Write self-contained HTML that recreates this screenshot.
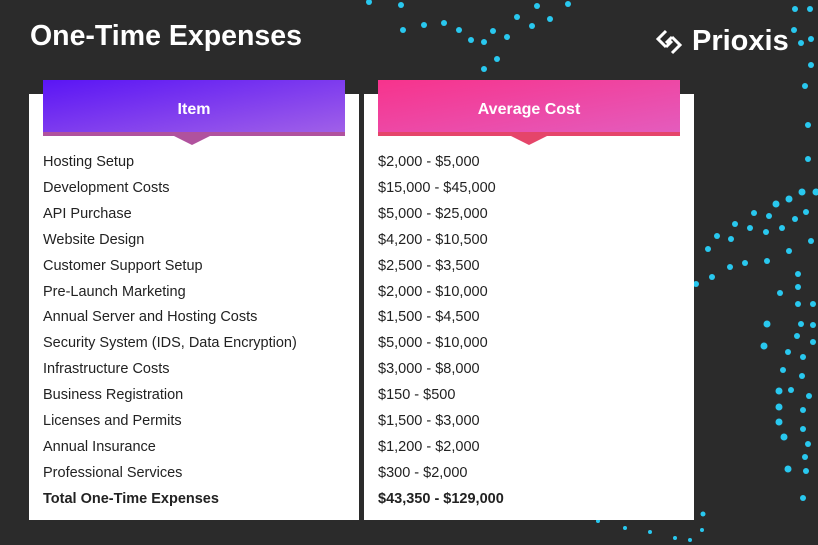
<!DOCTYPE html>
<html><head><meta charset="utf-8"><style>
body{margin:0;width:818px;height:545px;background:#2b2b2b;position:relative;overflow:hidden;font-family:"Liberation Sans",sans-serif}
svg.bg{position:absolute;left:0;top:0}
.title{position:absolute;left:30px;top:20px;color:#fff;font-size:28.5px;font-weight:bold}
.logo{position:absolute;left:654px;top:25px;color:#fff;font-size:29px;font-weight:bold;display:flex;align-items:center;gap:8px}
.panel{position:absolute;top:94px;height:426px;background:#fff}
.hdr{position:absolute;top:80px;height:52px;border-bottom:4px solid;color:#fff;font-weight:bold;font-size:16px;text-align:center;line-height:60px}
.notch{position:absolute;top:136px;width:0;height:0;border-left:18px solid transparent;border-right:18px solid transparent;border-top:9px solid}
.rows{position:absolute;top:150px;font-size:14.5px;color:#222;line-height:25.9px}
.rows div:last-child{font-weight:bold}
</style></head><body>
<svg class="bg" width="818" height="545" fill="#29c8ef">
<g>
<circle cx="369" cy="2" r="3"/><circle cx="401" cy="5" r="3"/><circle cx="403" cy="30" r="3"/><circle cx="424" cy="25" r="3"/><circle cx="444" cy="23" r="3"/><circle cx="459" cy="30" r="3"/><circle cx="471" cy="40" r="3"/><circle cx="484" cy="42" r="3"/><circle cx="493" cy="31" r="3"/><circle cx="507" cy="37" r="3"/><circle cx="517" cy="17" r="3"/><circle cx="532" cy="26" r="3"/><circle cx="537" cy="6" r="3"/><circle cx="550" cy="19" r="3"/><circle cx="568" cy="4" r="3"/><circle cx="497" cy="59" r="3"/><circle cx="484" cy="69" r="3"/><circle cx="489" cy="87" r="3"/><circle cx="481" cy="104" r="3"/><circle cx="493" cy="114" r="3"/><circle cx="335" cy="124" r="3"/>
<circle cx="795" cy="9" r="3"/><circle cx="810" cy="9" r="3"/><circle cx="794" cy="30" r="3"/><circle cx="801" cy="43" r="3"/><circle cx="811" cy="39" r="3"/><circle cx="811" cy="65" r="3"/><circle cx="805" cy="86" r="3"/><circle cx="808" cy="125" r="3"/><circle cx="808" cy="159" r="3"/>
<circle cx="802" cy="192" r="3.5"/><circle cx="816" cy="192" r="3.5"/><circle cx="789" cy="199" r="3.5"/><circle cx="776" cy="204" r="3.5"/><circle cx="754" cy="213" r="3"/><circle cx="769" cy="216" r="3"/><circle cx="806" cy="212" r="3"/><circle cx="795" cy="219" r="3"/><circle cx="735" cy="224" r="3"/><circle cx="750" cy="228" r="3"/><circle cx="766" cy="232" r="3"/><circle cx="782" cy="228" r="3"/><circle cx="717" cy="236" r="3"/><circle cx="731" cy="239" r="3"/><circle cx="708" cy="249" r="3"/><circle cx="811" cy="241" r="3"/><circle cx="789" cy="251" r="3"/><circle cx="730" cy="267" r="3"/><circle cx="745" cy="263" r="3"/><circle cx="767" cy="261" r="3"/><circle cx="712" cy="277" r="3"/><circle cx="696" cy="284" r="3"/><circle cx="798" cy="274" r="3"/><circle cx="798" cy="287" r="3"/><circle cx="780" cy="293" r="3"/><circle cx="798" cy="304" r="3"/><circle cx="813" cy="304" r="3"/><circle cx="767" cy="324" r="3.5"/><circle cx="801" cy="324" r="3"/><circle cx="813" cy="325" r="3"/><circle cx="797" cy="336" r="3"/><circle cx="764" cy="346" r="3.5"/><circle cx="813" cy="342" r="3"/><circle cx="788" cy="352" r="3"/><circle cx="803" cy="357" r="3"/><circle cx="783" cy="370" r="3"/><circle cx="802" cy="376" r="3"/><circle cx="779" cy="391" r="3.5"/><circle cx="791" cy="390" r="3"/><circle cx="809" cy="396" r="3"/><circle cx="779" cy="407" r="3.5"/><circle cx="803" cy="410" r="3"/><circle cx="779" cy="422" r="3.5"/><circle cx="803" cy="429" r="3"/><circle cx="784" cy="437" r="3.5"/><circle cx="808" cy="444" r="3"/><circle cx="805" cy="457" r="3"/><circle cx="788" cy="469" r="3.5"/><circle cx="806" cy="471" r="3"/><circle cx="803" cy="498" r="3"/><circle cx="703" cy="514" r="2.5"/><circle cx="702" cy="530" r="2"/>
<circle cx="598" cy="521" r="2"/><circle cx="625" cy="528" r="2"/><circle cx="650" cy="532" r="2"/><circle cx="675" cy="538" r="2"/><circle cx="690" cy="540" r="2"/>
</g></svg>
<div class="title">One-Time Expenses</div>
<div class="logo"><svg width="30" height="30" viewBox="0 0 30 30" fill="none" stroke="#fff" stroke-width="3"><path d="M12 4 L4 12 L12 20"/><path d="M18 10 L26 18 L18 26"/><path d="M12 20 L18 14 M12 16 L18 10"/></svg><span>Prioxis</span></div>
<div class="panel" style="left:29px;width:330px"></div>
<div class="panel" style="left:364px;width:330px"></div>
<div class="hdr" style="left:43px;width:302px;background:linear-gradient(170deg,#5a15f5,#a060e8);border-color:#b0529e">Item</div>
<div class="notch" style="left:174px;border-top-color:#b0529e"></div>
<div class="hdr" style="left:378px;width:302px;background:linear-gradient(170deg,#f7338c,#e45cbd);border-color:#e5456a">Average Cost</div>
<div class="notch" style="left:511px;border-top-color:#e5456a"></div>
<div class="rows" style="left:43px">
<div>Hosting Setup</div><div>Development Costs</div><div>API Purchase</div><div>Website Design</div><div>Customer Support Setup</div><div>Pre-Launch Marketing</div><div>Annual Server and Hosting Costs</div><div>Security System (IDS, Data Encryption)</div><div>Infrastructure Costs</div><div>Business Registration</div><div>Licenses and Permits</div><div>Annual Insurance</div><div>Professional Services</div><div>Total One-Time Expenses</div>
</div>
<div class="rows" style="left:378px">
<div>$2,000 - $5,000</div><div>$15,000 - $45,000</div><div>$5,000 - $25,000</div><div>$4,200 - $10,500</div><div>$2,500 - $3,500</div><div>$2,000 - $10,000</div><div>$1,500 - $4,500</div><div>$5,000 - $10,000</div><div>$3,000 - $8,000</div><div>$150 - $500</div><div>$1,500 - $3,000</div><div>$1,200 - $2,000</div><div>$300 - $2,000</div><div>$43,350 - $129,000</div>
</div>
</body></html>
